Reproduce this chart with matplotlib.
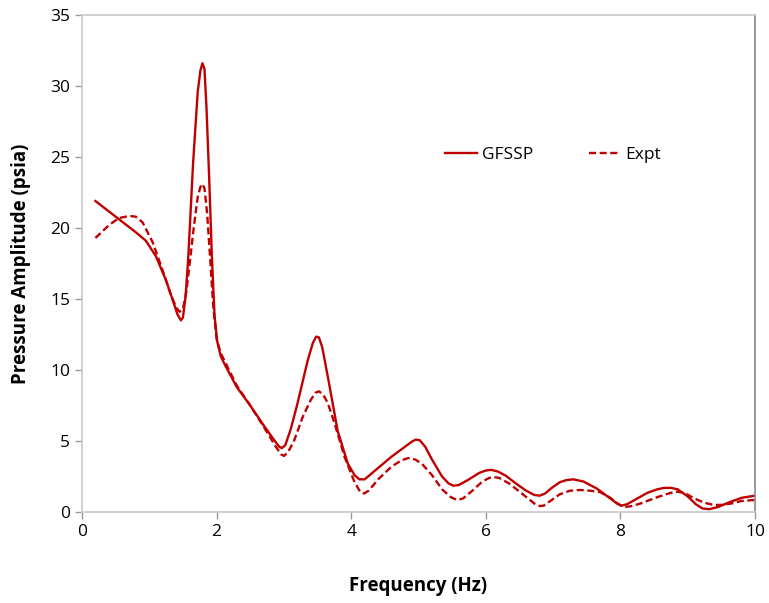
import matplotlib
matplotlib.use("Agg")
import matplotlib.pyplot as plt

gfssp_f = [0.2, 0.5, 0.8, 0.95, 1.1, 1.25, 1.35, 1.42, 1.47, 1.5, 1.54, 1.58, 1.65, 1.72, 1.76, 1.79, 1.82, 1.85, 1.89, 1.93,
           1.97, 2.01, 2.06, 2.12, 2.3, 2.5, 2.7, 2.85, 2.93, 2.97, 3.02, 3.1, 3.2, 3.35, 3.43, 3.48, 3.52, 3.57, 3.65, 3.8,
           3.95, 4.05, 4.12, 4.2, 4.4, 4.6, 4.8, 4.9, 4.96, 5.02, 5.1, 5.2, 5.35, 5.45, 5.52, 5.6, 5.75, 5.9, 6.0, 6.08, 6.18, 6.3, 6.45,
           6.6, 6.72, 6.8, 6.88, 6.98, 7.1, 7.2, 7.3, 7.45, 7.65, 7.85, 7.95, 8.02, 8.1, 8.25, 8.4, 8.55, 8.65, 8.75, 8.85, 9.0, 9.12, 9.22, 9.32, 9.45,
           9.6, 9.8, 10.0]
gfssp_v = [21.9, 20.8, 19.7, 19.1, 18.0, 16.3, 14.9, 13.9, 13.5, 13.7, 15.2, 18.0, 24.5, 29.6, 31.1, 31.6, 31.2, 28.5, 23.5, 18.0,
           13.8, 12.0, 11.0, 10.4, 8.8, 7.5, 6.1, 5.1, 4.6, 4.5, 4.7, 5.8, 7.6, 10.6, 11.9, 12.35, 12.3, 11.6, 9.6, 5.7,
           3.4, 2.6, 2.3, 2.3, 3.1, 3.9, 4.6, 4.95, 5.1, 5.05, 4.6, 3.7, 2.5, 2.0, 1.85, 1.9, 2.3, 2.75, 2.92, 2.97, 2.85, 2.55, 2.0,
           1.5, 1.2, 1.15, 1.3, 1.7, 2.1, 2.25, 2.3, 2.15, 1.65, 0.95, 0.6, 0.45, 0.55, 0.95, 1.35, 1.6, 1.7, 1.7, 1.6, 1.1, 0.55, 0.25, 0.2, 0.35,
           0.65, 1.0, 1.15]

expt_f = [0.2, 0.4, 0.55, 0.7, 0.8, 0.9, 1.05, 1.2, 1.32, 1.4, 1.45, 1.5, 1.55, 1.6, 1.66, 1.72, 1.76, 1.79, 1.82, 1.86, 1.9,
          1.95, 2.0, 2.06, 2.3, 2.5, 2.7, 2.88, 2.96, 3.0, 3.06, 3.15, 3.28, 3.4, 3.47, 3.52, 3.58, 3.65, 3.75, 3.9, 4.05, 4.13, 4.19,
          4.26, 4.4, 4.6, 4.75, 4.85, 4.95, 5.05, 5.2, 5.35, 5.48, 5.57, 5.66, 5.8, 5.95, 6.05, 6.12, 6.2, 6.35, 6.55, 6.72, 6.8, 6.86,
          6.95, 7.1, 7.25, 7.4, 7.55, 7.7, 7.85, 7.97, 8.05, 8.15, 8.3, 8.55, 8.75, 8.85, 8.95, 9.1, 9.25, 9.38, 9.5, 9.65, 9.8, 10.0]
expt_v = [19.3, 20.2, 20.7, 20.85, 20.8, 20.4, 19.0, 17.0, 15.3, 14.4, 14.1, 14.3, 15.5, 17.5, 20.0, 22.2, 22.9, 23.1, 22.8, 21.0, 18.2,
          14.5, 12.2, 11.2, 8.9, 7.5, 6.0, 4.6, 4.05, 3.95, 4.2, 5.0, 6.7, 7.9, 8.4, 8.5, 8.3, 7.7, 6.3, 3.9, 2.1, 1.45, 1.3,
          1.5, 2.3, 3.2, 3.65, 3.8, 3.7, 3.4, 2.6, 1.6, 1.05, 0.85, 0.95, 1.5, 2.15, 2.4, 2.46, 2.4, 2.0, 1.25, 0.6, 0.42, 0.45,
          0.75, 1.25, 1.5, 1.55, 1.5, 1.4, 1.0, 0.55, 0.35, 0.4, 0.6, 1.05, 1.35, 1.43, 1.35, 0.95, 0.65, 0.5, 0.5, 0.6, 0.78, 0.85]

x_ticks = [0, 2, 4, 6, 8, 10]
y_ticks = [0, 5, 10, 15, 20, 25, 30, 35]

plt.rcParams['font.family'] = ['Open Sans', 'DejaVu Sans']
fig = plt.figure(figsize=(7.69, 6.03), dpi=100)
ax = fig.add_axes([0.1066, 0.1509, 0.8752, 0.8242])
red = '#c00000'
ax.plot(gfssp_f, gfssp_v, color=red, lw=1.7, label='GFSSP', solid_joinstyle='round')
ax.plot(expt_f, expt_v, color=red, lw=1.7, ls=(0, (3, 1.5)), label='Expt', dash_joinstyle='round')
ax.set_xlim(0, 10)
ax.set_ylim(0, 35)
ax.set_xticks(x_ticks)
ax.set_yticks(y_ticks)
ax.tick_params(labelsize=12.5, colors='#999999', labelcolor='black', length=5, width=1)
for s in ['left', 'bottom', 'top']:
    ax.spines[s].set_color('#c8c8c8')
ax.spines['right'].set_color('#888888')
for s in ax.spines.values():
    s.set_linewidth(1.2)
ax.set_xlabel('Frequency (Hz)', fontsize=13.5, fontweight='bold', labelpad=26)
ax.set_ylabel('Pressure Amplitude (psia)', fontsize=13.5, fontweight='bold', labelpad=14)
ax.legend(loc='center', bbox_to_anchor=(0.70, 0.718), ncol=2, frameon=False, fontsize=12.5,
          handlelength=1.8, columnspacing=3.2, handletextpad=0.3)
fig.savefig('out.png', dpi=100)
